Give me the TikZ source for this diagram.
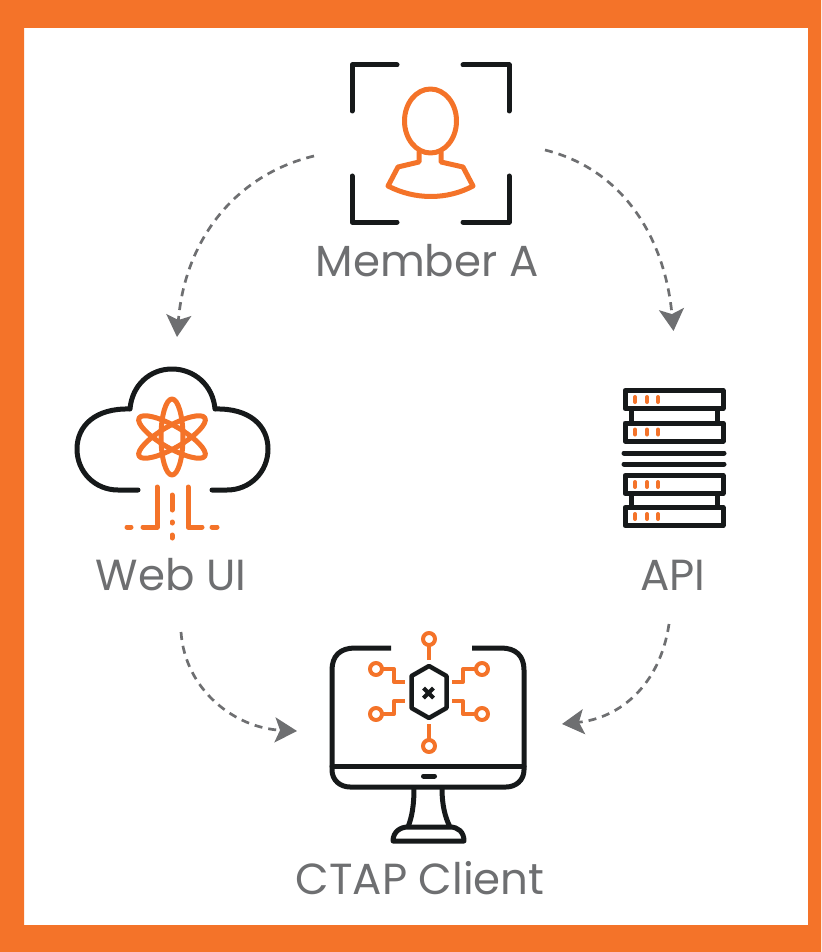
\documentclass[tikz,border=0pt]{standalone}
\usepackage{fontspec}
\setmainfont{Poppins}
\usetikzlibrary{arrows.meta}
\definecolor{brandorange}{HTML}{F47329}
\definecolor{inkblack}{HTML}{16191A}
\definecolor{labelgray}{HTML}{6E6F71}
\tikzset{
	icon/.style={line width=5pt, draw=inkblack, line cap=round, line join=round},
	accent/.style={line width=5pt, draw=brandorange, line join=round},
	label/.style={text=labelgray, font=\fontsize{43.5}{46}\selectfont, inner sep=0pt, anchor=base},
	flow/.style={draw=labelgray, line width=2.7pt, dash pattern=on 8pt off 6pt, -{Stealth[length=22pt,width=25pt,inset=5pt]}}
}
\begin{document}
\begin{tikzpicture}[x=1pt,y=-1pt]
	\useasboundingbox (0,0) rectangle (821,952);
	\draw[fill=brandorange, draw=none, even odd rule] (0,0) rectangle (821,952) (24,28) rectangle (808,925);

	% member
	\draw[icon] (352,111) |- (397,65);
	\draw[icon] (463,65) -| (509,111);
	\draw[icon] (352,176) |- (397,222);
	\draw[icon] (463,222) -| (509,176);
	\draw[accent] (430.5,121) ellipse (26 and 32);
	\draw[accent, line cap=round] (419,152) -- (419,162) -- (398,167) -- (388,186) .. controls (415,200) and (447,200) .. (473,186) -- (463,167) -- (441,162) -- (441,152);

	% cloud
	\draw[icon] (138,490) -- (118,490) .. controls (95,490) and (77,472) .. (77,449) .. controls (77,426) and (95,408) .. (130,409) .. controls (132,385) and (150,369) .. (172,369) .. controls (194,369) and (213,385) .. (215,409) .. controls (250,408) and (268,426) .. (268,449) .. controls (268,472) and (250,490) .. (227,490) -- (212,490);
	\draw[accent] (172,437) ellipse (11 and 38);
	\draw[accent, rotate around={60:(172,437)}] (172,437) ellipse (11 and 38);
	\draw[accent, rotate around={-60:(172,437)}] (172,437) ellipse (11 and 38);
	\draw[accent, line cap=round] (127,527) -- (131,527);
	\draw[accent, line cap=round] (143,527) -- (157,527) -- (157,487);
	\draw[accent, line cap=round] (188,487) -- (188,527) -- (202,527);
	\draw[accent, line cap=round] (212,527) -- (217,527);
	\draw[accent, line cap=round] (172,495) -- (172,510);
	\draw[accent, line cap=round] (172,522) -- (172,523);
	\draw[accent, line cap=round] (172,535) -- (172,538);

	% server
	\foreach \top in {390.5,423,475.5,507.5} {
		\draw[icon] (625,\top) rectangle (723,\top+18);
		\foreach \dot in {635,647,658} {
			\draw[accent, line cap=round, line width=4pt] (\dot,\top+6.5) -- (\dot,\top+11.5);
		}
	}
	\draw[icon, line cap=butt] (631,409) -- (631,423) (717,409) -- (717,423);
	\draw[icon, line cap=butt] (631,493) -- (631,507) (717,493) -- (717,507);
	\draw[icon] (624,453) -- (724,453) (624,464) -- (724,464);

	% monitor
	\draw[icon, line cap=butt] (391,648) -- (355,648) .. controls (340,648) and (332,656) .. (332,670) -- (332,770) .. controls (332,780) and (340,787) .. (350,787) -- (506,787) .. controls (516,787) and (524,780) .. (524,770) -- (524,670) .. controls (524,656) and (516,648) .. (501,648) -- (472,648);
	\draw[icon] (332,766) -- (524,766);
	\draw[icon] (423.5,776) -- (434.5,776);
	\draw[icon, line cap=butt] (414,788) .. controls (414,805) and (412,817) .. (408,827);
	\draw[icon, line cap=butt] (442,788) .. controls (442,805) and (445,817) .. (450,827);
	\draw[icon] (393,841) .. controls (393,832) and (400,827) .. (408,827) -- (450,827) .. controls (458,827) and (464,832) .. (464,841) -- cycle;
	\draw[icon, line width=4.5pt] (429,666) -- (446.5,676) -- (446.5,708) -- (429,718) -- (411.5,708) -- (411.5,676) -- cycle;
	\draw[icon, line width=4pt, line cap=butt] (423.5,688) -- (433.5,698) (433.5,688) -- (423.5,698);
	\draw[accent, line width=4pt] (429,639) circle (6) (429,746) circle (6);
	\draw[accent, line width=4pt] (429,645) -- (429,660) (429,740) -- (429,724);
	\draw[accent, line width=4pt] (376,669) circle (6) (376,714) circle (6) (482,669) circle (6) (482,714) circle (6);
	\draw[accent, line width=4pt] (382,669) -- (394,669) -- (394,682) -- (405,682);
	\draw[accent, line width=4pt] (382,714) -- (394,714) -- (394,701) -- (405,701);
	\draw[accent, line width=4pt] (476,669) -- (463,669) -- (463,682) -- (452,682);
	\draw[accent, line width=4pt] (476,714) -- (463,714) -- (463,701) -- (452,701);

	% labels
	\node[label] (member) at (427,276) {Member A};
	\node[label] (webui) at (171,590) {Web UI};
	\node[label] (api) at (673,590) {API};
	\node[label] (client) at (420,894) {CTAP Client};

	% free ends of the arrows
	\coordinate (memberleft) at (314,156);
	\coordinate (memberright) at (545,150);
	\coordinate (webin) at (177,337);
	\coordinate (apiin) at (673.5,331);
	\coordinate (webout) at (181,632);
	\coordinate (apiout) at (669,624);
	\coordinate (clientleft) at (297,731);
	\coordinate (clientright) at (562,724);

	\draw[flow] (memberleft) .. controls (235,175) and (185,240) .. (webin);
	\draw[flow] (memberright) .. controls (625,170) and (665,240) .. (apiin);
	\draw[flow] (webout) .. controls (185,690) and (235,728) .. (clientleft);
	\draw[flow] (apiout) .. controls (660,685) and (620,718) .. (clientright);
\end{tikzpicture}
\end{document}
